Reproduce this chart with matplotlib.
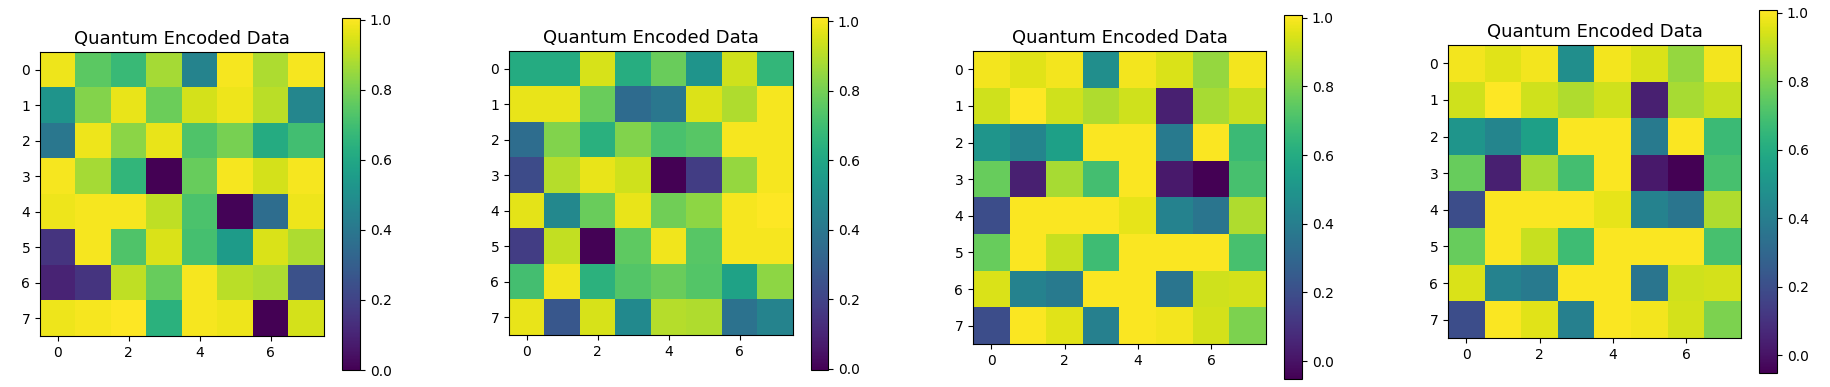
import numpy as np
import matplotlib
matplotlib.use('Agg')
from matplotlib import pyplot as plt

title = 'Quantum Encoded Data'

data1 = [
    [0.98, 0.75, 0.68, 0.87, 0.45, 0.99, 0.88, 0.99],
    [0.52, 0.82, 0.97, 0.78, 0.94, 0.98, 0.90, 0.46],
    [0.40, 0.98, 0.83, 0.97, 0.73, 0.80, 0.62, 0.70],
    [0.99, 0.87, 0.66, 0.00, 0.77, 0.99, 0.94, 0.99],
    [0.98, 0.99, 0.99, 0.91, 0.72, 0.01, 0.36, 0.98],
    [0.15, 0.99, 0.73, 0.95, 0.71, 0.55, 0.95, 0.88],
    [0.10, 0.15, 0.91, 0.77, 0.99, 0.90, 0.88, 0.25],
    [0.98, 0.99, 1.005, 0.64, 0.99, 0.98, 0.00, 0.94],
]

data2 = [
    [0.62, 0.62, 0.95, 0.63, 0.78, 0.52, 0.94, 0.67],
    [0.98, 0.98, 0.78, 0.35, 0.40, 0.96, 0.89, 1.00],
    [0.36, 0.82, 0.64, 0.82, 0.72, 0.75, 1.00, 1.00],
    [0.23, 0.90, 0.98, 0.94, -0.004, 0.18, 0.85, 1.00],
    [0.97, 0.47, 0.78, 0.98, 0.79, 0.84, 1.00, 1.012],
    [0.18, 0.92, 0.00, 0.76, 0.99, 0.75, 1.00, 1.00],
    [0.71, 0.99, 0.65, 0.74, 0.78, 0.74, 0.58, 0.84],
    [0.98, 0.27, 0.95, 0.48, 0.90, 0.89, 0.38, 0.45],
]

data3 = [
    [0.99, 0.96, 0.99, 0.47, 0.99, 0.95, 0.84, 0.99],
    [0.93, 1.008, 0.93, 0.88, 0.93, 0.04, 0.87, 0.92],
    [0.50, 0.43, 0.55, 1.00, 1.00, 0.38, 1.00, 0.67],
    [0.76, 0.04, 0.87, 0.69, 1.00, 0.02, -0.052, 0.70],
    [0.20, 1.00, 1.00, 1.00, 0.97, 0.42, 0.36, 0.88],
    [0.76, 1.00, 0.92, 0.68, 1.00, 1.00, 1.00, 0.70],
    [0.95, 0.42, 0.38, 1.00, 1.00, 0.36, 0.93, 0.94],
    [0.20, 1.00, 0.96, 0.41, 1.00, 0.99, 0.94, 0.80],
]

data4 = [row[:] for row in data3]

# pixel boxes (x0, y0, x1, y1) for image and colorbar
W, H = 1830, 387
boxes = [
    ((40, 52, 324, 336), (342, 18, 360, 370)),
    ((509, 51, 793, 335), (811, 17, 828, 370)),
    ((973, 51, 1266, 344), (1284, 15, 1302, 379)),
    ((1448, 45, 1741, 338), (1759, 10, 1777, 373)),
]

def frac(b):
    x0, y0, x1, y1 = b
    return [x0 / W, (H - y1) / H, (x1 - x0) / W, (y1 - y0) / H]

fig = plt.figure(figsize=(W / 100, H / 100), dpi=100)
for d, (ib, cb) in zip([data1, data2, data3, data4], boxes):
    ax = fig.add_axes(frac(ib))
    cax = fig.add_axes(frac(cb))
    im = ax.imshow(np.array(d), cmap='viridis', aspect='auto')
    ax.set_title(title, fontsize=13)
    ax.set_xticks([0, 2, 4, 6])
    ax.set_yticks(range(8))
    cbar = fig.colorbar(im, cax=cax)
    cbar.set_ticks([0.0, 0.2, 0.4, 0.6, 0.8, 1.0])

fig.savefig('out.png', dpi=100)
